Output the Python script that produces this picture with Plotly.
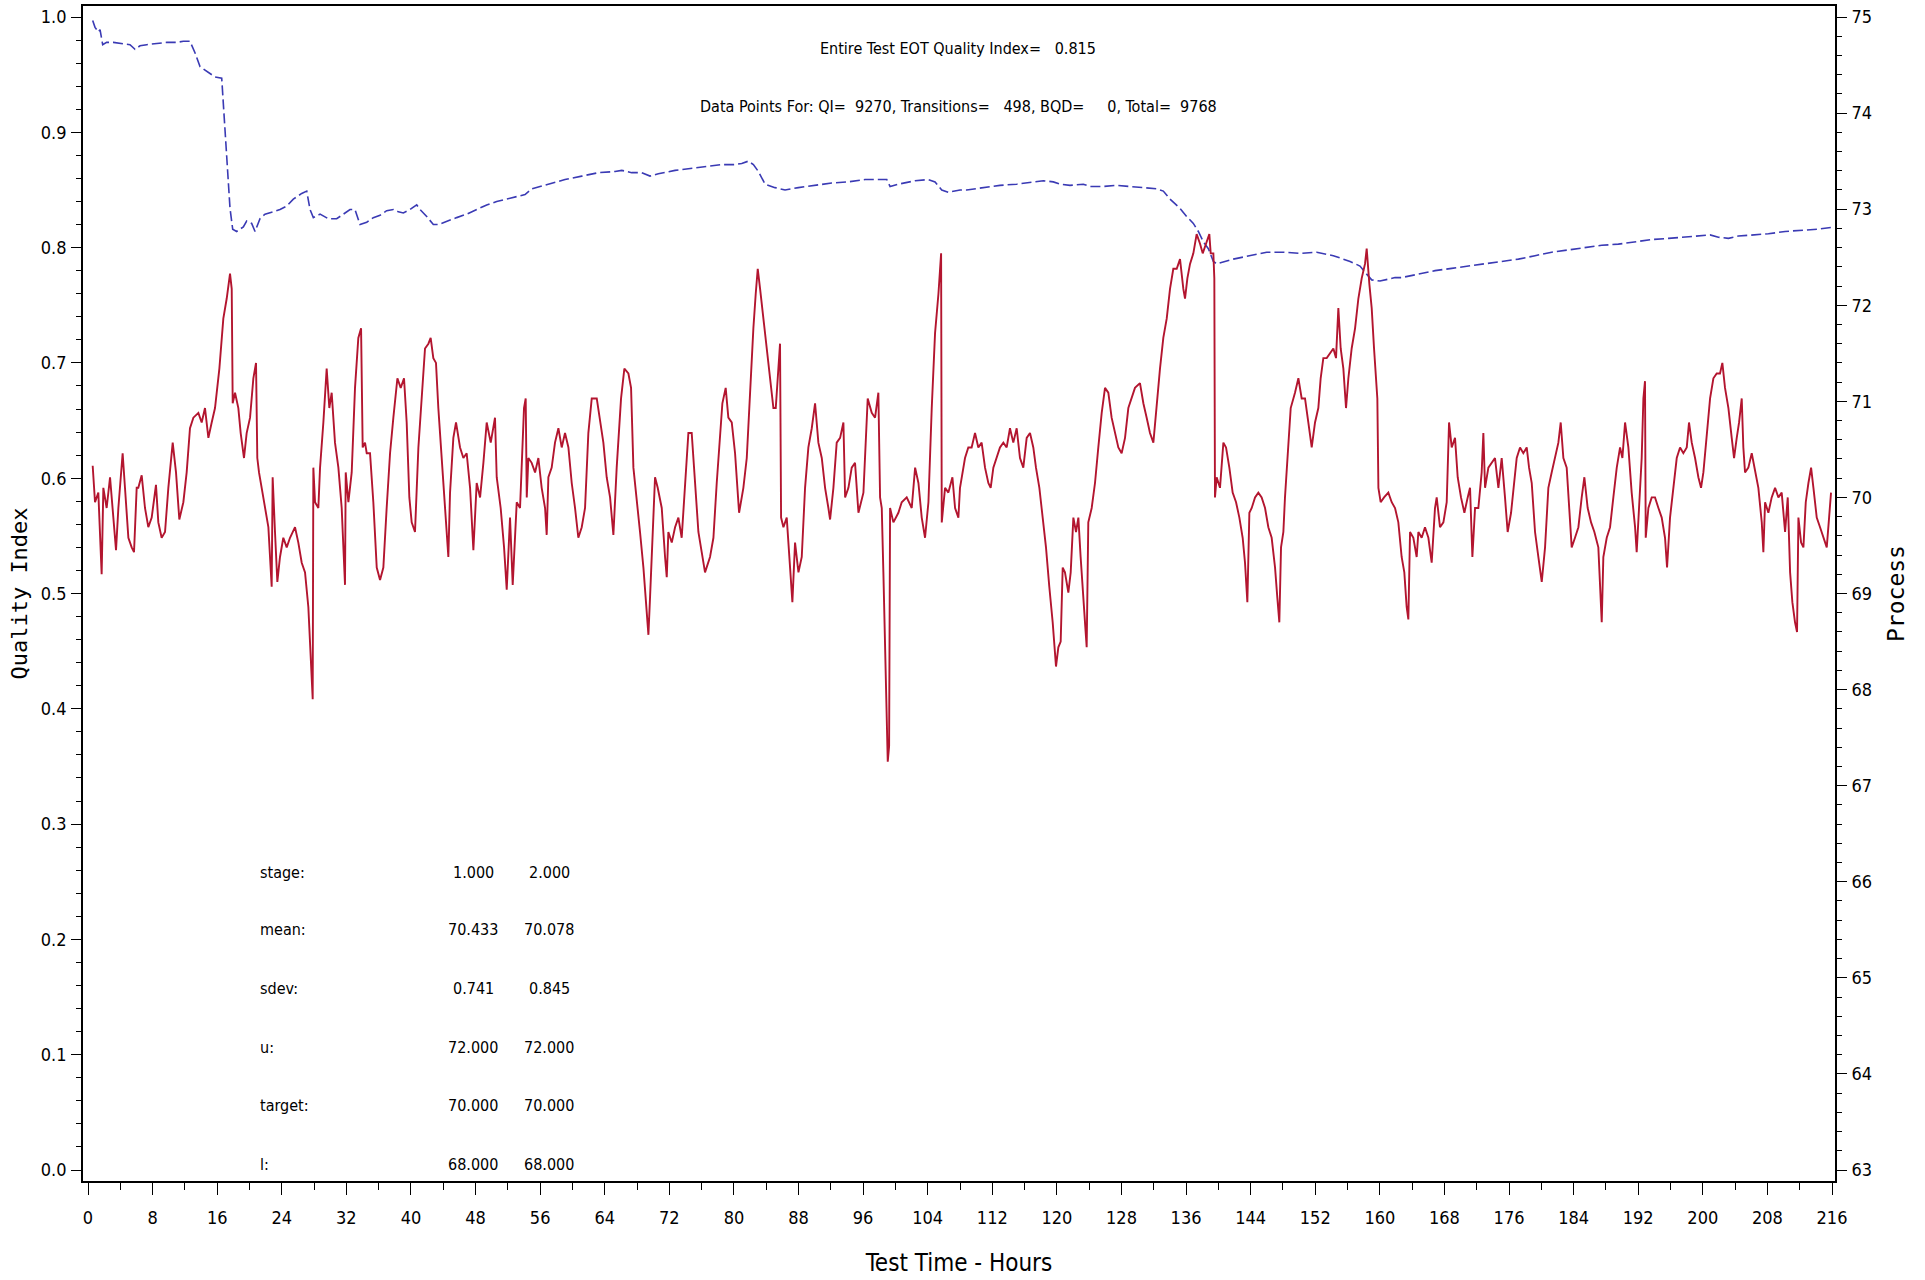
import plotly.graph_objects as go

# ---------------- data ----------------
red_hours = [
    0.58, 0.87, 1.28, 1.69, 1.90, 2.31, 2.73, 3.14, 3.47, 3.76, 4.29, 4.58, 5.00, 5.41, 5.70, 6.03, 6.23, 6.65,
    7.06, 7.47, 7.89, 8.42, 8.71, 9.12, 9.54, 9.95, 10.49, 10.90, 11.31, 11.81, 12.22, 12.63, 13.05, 13.67, 14.08,
    14.49, 14.91, 15.32, 15.73, 16.27, 16.76, 17.18, 17.59, 17.80, 17.92, 18.21, 18.62, 18.91, 19.32, 19.65, 20.07,
    20.48, 20.81, 20.97, 21.18, 21.51, 21.92, 22.34, 22.75, 22.87, 23.16, 23.45, 23.78, 24.19, 24.61, 25.02, 25.64,
    26.05, 26.47, 26.88, 27.29, 27.58, 27.83, 27.91, 28.12, 28.53, 28.74, 29.15, 29.56, 29.89, 30.18, 30.59, 31.01,
    31.42, 31.83, 31.92, 32.25, 32.66, 33.07, 33.48, 33.82, 34.02, 34.31, 34.52, 34.93, 35.34, 35.76, 36.17, 36.58,
    36.99, 37.41, 37.82, 38.32, 38.73, 39.14, 39.47, 39.80, 40.09, 40.50, 40.92, 41.33, 41.74, 42.16, 42.44, 42.77,
    43.10, 43.39, 43.81, 44.22, 44.63, 44.84, 45.25, 45.58, 46.08, 46.49, 46.90, 47.32, 47.73, 48.14, 48.56, 48.97,
    49.38, 49.88, 50.41, 50.62, 51.11, 51.53, 51.86, 52.27, 52.60, 53.10, 53.51, 54.00,
    54.21, 54.34, 54.54, 54.95, 55.37, 55.78, 56.19, 56.61, 56.81, 57.02, 57.43, 57.84, 58.26, 58.67, 59.08, 59.50,
    59.91, 60.32, 60.73, 61.15, 61.56, 61.97, 62.39, 63.01, 63.42, 63.83, 64.24, 64.66, 65.07, 65.48, 66.02, 66.43,
    66.93, 67.26, 67.55, 67.96, 68.37, 68.79, 69.07, 69.41, 69.61, 69.90, 70.23, 70.56, 71.06, 71.47, 71.68, 71.88,
    72.30, 72.71, 73.12, 73.53, 73.95, 74.36, 74.77, 75.19, 75.60, 76.01, 76.42, 77.04, 77.46, 77.87, 78.28, 78.57,
    78.98, 79.31, 79.73, 80.14, 80.64, 81.17, 81.59, 82.00, 82.41, 82.70, 82.95, 83.24, 83.65, 84.06, 84.48, 84.89,
    85.18, 85.51, 85.71, 85.84, 86.13, 86.54, 86.95, 87.24, 87.57, 87.99, 88.40, 88.81, 89.22, 89.64, 90.05, 90.46,
    90.88, 91.29, 91.70, 91.91, 92.32, 92.73, 93.15, 93.56, 93.77, 94.18, 94.59, 95.00, 95.42, 96.04, 96.57, 97.07,
    97.48, 97.89, 98.10, 98.31, 98.51, 98.72, 98.93, 99.05, 99.22, 99.34, 99.75, 100.37, 100.78, 101.40, 102.02,
    102.44, 102.85, 103.26, 103.67, 104.09, 104.50, 104.91, 105.33, 105.66, 105.74, 106.15, 106.56, 107.06, 107.39,
    107.80,
    108.00, 108.62, 109.03, 109.44, 109.86, 110.27, 110.68, 111.10, 111.51, 111.80, 112.13, 112.54, 112.95, 113.37,
    113.78, 114.19, 114.60, 115.02, 115.43, 115.84, 116.26, 116.67, 117.08, 117.41, 117.83, 118.24, 118.65, 119.06,
    119.48, 119.89, 120.18, 120.47, 120.72, 121.00, 121.42, 121.71, 122.04, 122.37, 122.66, 122.94, 123.19, 123.48,
    123.69, 123.89, 124.31, 124.72, 125.13, 125.55, 125.96, 126.37, 126.78, 127.20, 127.61, 128.02, 128.44, 128.85,
    129.26, 129.67, 130.29, 130.71, 131.12, 131.53, 131.95, 132.36, 132.77, 133.18, 133.60, 134.01, 134.42, 134.84,
    135.25, 135.66, 135.87, 136.16, 136.49, 136.90, 137.31, 137.73, 138.06, 138.47, 138.88, 139.05, 139.38, 139.50,
    139.58, 139.79, 140.20, 140.62, 140.95, 141.36, 141.77, 142.19, 142.60, 143.01, 143.30, 143.59, 143.84, 144.13,
    144.54, 144.95, 145.36, 145.78, 146.19, 146.60, 147.02, 147.30, 147.55, 147.76, 148.05, 148.25, 148.54, 148.96,
    149.49, 149.91, 150.32, 150.73, 151.14, 151.56, 151.97, 152.38, 152.67, 153.00, 153.42, 153.83, 154.24, 154.57,
    154.86, 155.15, 155.48, 155.81, 156.10, 156.51, 156.93, 157.34, 157.75, 158.16, 158.37, 158.70, 158.99, 159.28,
    159.53, 159.69, 159.82, 160.10, 160.52,
    161.05, 161.47, 161.88, 162.29, 162.70, 163.03, 163.32, 163.53, 163.74, 164.15, 164.56, 164.77, 165.18, 165.59,
    166.01, 166.42, 166.83, 167.04, 167.45, 167.87, 168.28, 168.57, 168.90, 169.31, 169.64, 170.05, 170.47, 170.88,
    171.17, 171.46, 171.79, 172.20, 172.61, 172.82, 173.03, 173.44, 173.85, 174.26, 174.68, 175.09, 175.50, 175.83,
    176.25, 176.66, 176.95, 177.36, 177.77, 178.19, 178.48, 178.81, 179.22, 179.63, 180.05, 180.46, 180.87, 181.28,
    181.70, 182.11, 182.40, 182.73, 183.14, 183.47, 183.76, 184.17, 184.59, 185.00, 185.33, 185.74, 186.16, 186.57,
    187.06, 187.48, 187.68, 188.10, 188.51, 188.92, 189.34, 189.75, 190.04, 190.37, 190.78, 191.19, 191.61, 191.81,
    192.10, 192.43, 192.64, 192.84, 192.93, 193.26, 193.67, 194.08, 194.50, 194.91, 195.32, 195.57, 195.94, 196.35,
    196.77, 197.18, 197.59, 198.01, 198.29, 198.63, 199.04, 199.45, 199.78, 200.07, 200.48, 200.90, 201.31, 201.72,
    202.13, 202.42, 202.75, 203.17, 203.58, 203.87, 204.20, 204.49, 204.82, 205.02, 205.23, 205.64, 206.06, 206.47,
    206.88, 207.30, 207.50, 207.71, 208.12, 208.53, 208.95, 209.36, 209.77, 210.19, 210.52, 210.81, 211.09, 211.42,
    211.67, 211.84, 212.17, 212.46, 212.75, 213.08, 213.41, 213.70, 214.11, 214.52, 214.93, 215.35, 215.64, 215.88,
]
red_process = [
    70.33, 69.95, 70.05, 69.20, 70.10, 69.89, 70.21, 69.74, 69.45, 69.89, 70.46, 70.10, 69.58, 69.48, 69.43, 70.10, 70.10, 70.23,
    69.89, 69.69, 69.79, 70.13, 69.74, 69.58, 69.64, 70.10, 70.57, 70.26, 69.77, 69.95, 70.26, 70.72, 70.83, 70.88, 70.78,
    70.93, 70.62, 70.78, 70.93, 71.34, 71.86, 72.07, 72.33, 72.17, 70.98, 71.09, 70.93, 70.67, 70.41, 70.67, 70.83,
    71.24, 71.40, 70.41, 70.26, 70.10, 69.89, 69.69, 69.07, 70.21, 69.64, 69.12, 69.38, 69.58, 69.48, 69.58, 69.69,
    69.53, 69.32, 69.22, 68.86, 68.34, 67.90, 70.31, 69.95, 69.89, 70.31, 70.78, 71.34, 70.93, 71.09, 70.57, 70.31,
    69.89, 69.09, 70.26, 69.95, 70.26, 71.14, 71.66, 71.76, 70.52, 70.57, 70.46, 70.46, 69.95, 69.27, 69.14, 69.27,
    69.89, 70.46, 70.83, 71.24, 71.14, 71.24, 70.78, 70.00, 69.74, 69.64, 70.52, 71.03, 71.55, 71.60, 71.66, 71.45,
    71.40, 70.93, 70.41, 69.89, 69.38, 70.05, 70.62, 70.78, 70.52, 70.41, 70.46, 70.10, 69.45, 70.15, 70.00, 70.36,
    70.78, 70.57, 70.83, 70.21, 69.89, 69.48, 69.04, 69.79, 69.09, 69.95, 69.89, 70.93,
    71.03, 70.00, 70.41, 70.36, 70.26, 70.41, 70.10, 69.89, 69.61, 70.21, 70.31, 70.57, 70.72, 70.52, 70.67, 70.52,
    70.15, 69.89, 69.58, 69.69, 69.89, 70.67, 71.03, 71.03, 70.78, 70.57, 70.21, 70.00, 69.61, 70.31, 71.03, 71.34,
    71.29, 71.14, 70.31, 70.00, 69.64, 69.27, 68.91, 68.57, 68.96, 69.53, 70.21, 70.10, 69.89, 69.38, 69.17, 69.64,
    69.53, 69.69, 69.79, 69.58, 70.15, 70.67, 70.67, 70.15, 69.64, 69.43, 69.22, 69.38, 69.58, 70.15, 70.67, 70.98,
    71.14, 70.83, 70.78, 70.46, 69.84, 70.10, 70.41, 71.14, 71.76, 72.12, 72.38, 72.17, 71.86, 71.55, 71.24, 70.93,
    70.93, 71.34, 71.60, 69.79, 69.69, 69.79, 69.27, 68.91, 69.53, 69.22, 69.38, 70.10, 70.52, 70.72, 70.98, 70.57,
    70.41, 70.10, 69.89, 69.77, 70.10, 70.57, 70.62, 70.78, 70.00, 70.10, 70.31, 70.36, 69.84, 70.05, 71.03, 70.88,
    70.83, 71.09, 70.00, 69.89, 69.22, 68.34, 67.67, 67.25, 67.41, 69.89, 69.74, 69.84, 69.95, 70.00, 69.89,
    70.31, 70.15, 69.79, 69.58, 69.95, 70.93, 71.71, 72.12, 72.54, 69.74, 70.10, 70.05, 70.21, 69.89,
    69.79,
    70.10, 70.41, 70.52, 70.52, 70.67, 70.52, 70.57, 70.31, 70.15, 70.10, 70.31, 70.41, 70.52, 70.57,
    70.52, 70.72, 70.57, 70.72, 70.41, 70.31, 70.62, 70.67, 70.52, 70.31, 70.10, 69.79, 69.48, 69.07,
    68.70, 68.24, 68.44, 68.50, 69.27, 69.22, 69.01, 69.22, 69.79, 69.64, 69.79, 69.38, 69.01, 68.70,
    68.44, 69.74, 69.89, 70.15, 70.52, 70.88, 71.14, 71.09, 70.83, 70.67, 70.52, 70.46, 70.62, 70.93,
    71.03, 71.14, 71.19, 70.98, 70.83, 70.67, 70.57, 70.98, 71.34, 71.66, 71.86, 72.17, 72.38, 72.38,
    72.48, 72.17, 72.07, 72.28, 72.43, 72.54, 72.74, 72.64, 72.54, 72.64, 72.74, 72.54, 72.54, 72.28,
    70.00, 70.21, 70.10, 70.57, 70.52, 70.31, 70.05, 69.95, 69.79, 69.58, 69.32, 68.91, 69.84, 69.89,
    70.00, 70.05, 70.00, 69.89, 69.69, 69.58, 69.27, 68.96, 68.70, 69.48, 69.64, 70.00, 70.41, 70.93,
    71.09, 71.24, 71.03, 71.03, 70.78, 70.52, 70.78, 70.93, 71.24, 71.45, 71.45, 71.50, 71.55, 71.45,
    71.97, 71.55, 71.34, 70.93, 71.24, 71.55, 71.76, 72.07, 72.28, 72.43, 72.59, 72.22, 71.97, 71.55,
    71.29, 71.03, 70.10, 69.95, 70.00,
    70.05, 69.95, 69.89, 69.74, 69.38, 69.22, 68.86, 68.73, 69.64, 69.58, 69.38, 69.64, 69.58, 69.69,
    69.58, 69.32, 69.89, 70.00, 69.69, 69.74, 69.95, 70.78, 70.52, 70.62, 70.21, 70.00, 69.84, 70.00,
    70.10, 69.38, 69.89, 69.89, 70.26, 70.67, 70.10, 70.31, 70.36, 70.41, 70.10, 70.41, 70.00, 69.64,
    69.84, 70.15, 70.41, 70.52, 70.46, 70.52, 70.31, 70.15, 69.64, 69.38, 69.12, 69.48, 70.10, 70.26,
    70.41, 70.57, 70.78, 70.41, 70.31, 69.89, 69.48, 69.58, 69.69, 70.00, 70.21, 69.89, 69.74, 69.64,
    69.48, 68.70, 69.38, 69.58, 69.69, 70.00, 70.31, 70.52, 70.41, 70.78, 70.52, 70.05, 69.69, 69.43,
    69.84, 70.41, 71.03, 71.21, 69.58, 69.89, 70.00, 70.00, 69.89, 69.79, 69.58, 69.27, 69.79, 70.10,
    70.41, 70.52, 70.46, 70.52, 70.78, 70.57, 70.41, 70.21, 70.10, 70.26, 70.67, 71.03, 71.24, 71.29,
    71.29, 71.40, 71.14, 70.93, 70.62, 70.41, 70.62, 70.78, 71.03, 70.52, 70.26, 70.31, 70.46, 70.26,
    70.10, 69.74, 69.43, 69.95, 69.84, 70.00, 70.10, 70.00, 70.05, 69.64, 70.00, 69.22, 68.91, 68.70,
    68.60, 69.79, 69.53, 69.48, 69.95, 70.15, 70.31, 70.10, 69.79, 69.69, 69.58, 69.48, 69.79, 70.05,
]

blue_hours = [
    0.58, 0.87, 1.28, 1.49, 1.82, 2.31, 3.14, 4.38, 5.20, 5.82, 6.44, 7.27, 8.51, 9.74, 10.98, 11.81, 12.63, 13.25,
    13.87, 14.49, 15.32, 15.73, 16.56, 17.18, 17.59, 17.92, 18.41, 19.24, 19.65, 20.27, 20.69, 21.30, 21.92, 22.96,
    23.78, 24.61, 25.43, 26.47, 27.09, 27.50, 27.91, 28.74, 29.77, 30.80, 31.63, 32.45, 33.07, 33.69, 34.52, 35.34,
    36.17, 36.99, 37.82, 38.44, 39.06, 39.88, 40.71, 41.12, 41.95, 42.77, 43.39, 44.43, 45.66, 46.90, 48.14, 49.38,
    50.62, 51.86, 53.10, 54.13,
    54.95, 57.02, 59.08, 61.15, 63.21, 65.28, 66.10, 67.34, 68.58, 69.61, 70.64, 72.71, 74.77, 76.84, 78.49, 80.14,
    80.97, 81.79, 82.41, 83.03, 83.86, 85.09, 86.33, 87.98, 90.05, 92.11, 94.18, 96.24, 98.31, 98.93, 99.34, 100.37,
    102.44, 104.09, 104.91, 105.74, 106.56, 108.01,
    108.82, 110.89, 112.95, 115.02, 117.08, 118.32, 119.56, 120.38, 121.62, 123.27, 124.10, 125.75, 127.40, 129.06,
    130.71, 132.36, 133.18, 134.01, 135.25, 136.07, 136.90, 137.52, 138.14, 138.76, 139.38, 139.79, 141.85, 143.92,
    145.98, 148.05, 150.11, 152.18, 154.24, 156.31, 157.54, 158.37, 158.99, 160.02, 161.26, 161.88,
    162.70, 164.77, 166.83, 168.90, 170.96, 173.03, 175.09, 177.16, 179.22, 181.28, 183.35, 185.41, 187.48, 189.54,
    191.61, 193.67, 195.74, 197.80, 199.86, 200.90, 201.93, 203.17, 204.41, 206.06, 208.12, 210.19, 212.25, 214.32,
    215.97,
]
blue_qi = [
    0.997, 0.991, 0.987, 0.989, 0.976, 0.978, 0.978, 0.977, 0.976, 0.972, 0.975, 0.976, 0.977, 0.978, 0.978, 0.979, 0.979, 0.969,
    0.957, 0.954, 0.950, 0.948, 0.947, 0.877, 0.834, 0.816, 0.814, 0.818, 0.823, 0.821, 0.814, 0.825, 0.829, 0.831,
    0.833, 0.836, 0.842, 0.847, 0.849, 0.833, 0.826, 0.829, 0.825, 0.825, 0.829, 0.833, 0.833, 0.820, 0.822, 0.826,
    0.828, 0.832, 0.833, 0.831, 0.830, 0.833, 0.837, 0.833, 0.827, 0.820, 0.820, 0.823, 0.826, 0.829, 0.833, 0.837,
    0.840, 0.842, 0.844, 0.846,
    0.851, 0.855, 0.859, 0.862, 0.865, 0.866, 0.867, 0.865, 0.865, 0.862, 0.864, 0.867, 0.869, 0.871, 0.872, 0.872,
    0.873, 0.875, 0.872, 0.866, 0.855, 0.852, 0.850, 0.852, 0.854, 0.856, 0.857, 0.859, 0.859, 0.859, 0.853, 0.855,
    0.858, 0.859, 0.857, 0.850, 0.848, 0.850,
    0.850, 0.852, 0.854, 0.855, 0.857, 0.858, 0.857, 0.855, 0.854, 0.855, 0.853, 0.853, 0.854, 0.853,
    0.852, 0.851, 0.849, 0.842, 0.834, 0.827, 0.821, 0.814, 0.805, 0.799, 0.788, 0.786, 0.790, 0.793,
    0.796, 0.796, 0.795, 0.796, 0.793, 0.788, 0.784, 0.777, 0.772, 0.771, 0.773, 0.774,
    0.774, 0.777, 0.780, 0.782, 0.784, 0.786, 0.788, 0.790, 0.793, 0.796, 0.798, 0.800, 0.802, 0.803,
    0.805, 0.807, 0.808, 0.809, 0.810, 0.811, 0.809, 0.808, 0.810, 0.811, 0.812, 0.814, 0.815, 0.816,
    0.8175,
]

x_tick_vals = list(range(0, 217, 8))
eot_qi = 0.815
qi_points = 9270
transitions = 498
bqd_points = 0
total_points = 9768

stat_labels = ["stage:", "mean:", "sdev:", "u:", "target:", "l:"]
stage1_stats = ["1.000", "70.433", "0.741", "72.000", "70.000", "68.000"]
stage2_stats = ["2.000", "70.078", "0.845", "72.000", "70.000", "68.000"]

# ---------------- styling ----------------
NARROW = "Liberation Sans Narrow, DejaVu Sans Condensed, Arial Narrow, Liberation Sans, sans-serif"
WIDE = "DejaVu Sans Mono, DejaVu Sans, sans-serif"
RED = "#b3152f"
BLUE = "#3a3ab4"
NB = "\u00a0"


def keep_spaces(s):
    return s.replace(" ", NB)


fig = go.Figure()
fig.add_trace(go.Scatter(x=blue_hours, y=blue_qi, mode="lines", yaxis="y",
                         line=dict(color=BLUE, width=1.6, dash="10px,4px"),
                         showlegend=False, hoverinfo="x+y"))
fig.add_trace(go.Scatter(x=red_hours, y=red_process, mode="lines", yaxis="y2",
                         line=dict(color=RED, width=1.9),
                         showlegend=False, hoverinfo="x+y"))

# plot area in pixels: left 83, right 1835, top 6, bottom 1181
L, R, T, B = 83, 1835, 6, 1181
W, H = 1925, 1280
px_per_hour = (1832 - 88) / 216.0
x_lo = -(88 - L) / px_per_hour
x_hi = 216 + (R - 1832) / px_per_hour
px_per_qi = (1170 - 17) / 1.0
y_lo = -(B - 1170) / px_per_qi
y_hi = 1.0 + (17 - T) / px_per_qi
y2_lo = 63 + y_lo * 12
y2_hi = 63 + y_hi * 12

SMALL = 16
annotations = []
line1 = keep_spaces(f"Entire Test EOT Quality Index={eot_qi:8.3f}")
line2 = keep_spaces(f"Data Points For: QI={qi_points:6d}, Transitions={transitions:6d}, "
                    f"BQD={bqd_points:6d}, Total={total_points:6d}")
for txt, py in [(line1, 48), (line2, 107)]:
    annotations.append(dict(text=txt, xref="paper", yref="paper",
                            x=(958 - L) / (R - L), y=(B - py) / (B - T),
                            xanchor="center", yanchor="middle", showarrow=False,
                            font=dict(family=NARROW, size=SMALL, color="black")))

row_px = [872, 929, 988, 1047, 1105, 1164]
for lab, v1, v2, py in zip(stat_labels, stage1_stats, stage2_stats, row_px):
    yp = (B - py) / (B - T)
    annotations.append(dict(text=lab, xref="paper", yref="paper", x=(258 - L) / (R - L), y=yp,
                            xanchor="left", yanchor="middle", showarrow=False,
                            font=dict(family=NARROW, size=SMALL, color="black")))
    annotations.append(dict(text=v1, xref="paper", yref="paper", x=(473 - L) / (R - L), y=yp,
                            xanchor="center", yanchor="middle", showarrow=False,
                            font=dict(family=NARROW, size=SMALL, color="black")))
    annotations.append(dict(text=v2, xref="paper", yref="paper", x=(549 - L) / (R - L), y=yp,
                            xanchor="center", yanchor="middle", showarrow=False,
                            font=dict(family=NARROW, size=SMALL, color="black")))

fig.update_layout(
    width=W, height=H,
    margin=dict(l=L, r=W - R, t=T, b=H - B, pad=0, autoexpand=False),
    paper_bgcolor="white", plot_bgcolor="white",
    showlegend=False,
    annotations=annotations,
    xaxis=dict(
        range=[x_lo, x_hi], tickmode="array", tickvals=x_tick_vals, automargin=False,
        ticks="outside", ticklen=12, tickwidth=1.3, tickcolor="black",
        minor=dict(dtick=4, tick0=0, ticks="outside", ticklen=7, tickwidth=1.2, tickcolor="black"),
        showline=True, linecolor="black", linewidth=1.8, mirror=True,
        showgrid=False, zeroline=False,
        tickfont=dict(family=NARROW, size=18, color="black"),
        ticklabelstandoff=7,
        title=dict(text="Test Time - Hours", standoff=28,
                   font=dict(family=NARROW, size=24, color="black")),
    ),
    yaxis=dict(
        range=[y_lo, y_hi], dtick=0.1, tick0=0, tickformat=".1f", automargin=False,
        ticks="outside", ticklen=10, tickwidth=1.3, tickcolor="black",
        minor=dict(dtick=0.02, tick0=0, ticks="outside", ticklen=5, tickwidth=1.1, tickcolor="black"),
        showline=True, linecolor="black", linewidth=1.8,
        showgrid=False, zeroline=False,
        tickfont=dict(family=NARROW, size=18, color="black"),
        ticklabelstandoff=1,
        title=dict(text="Quality Index", standoff=7,
                   font=dict(family=WIDE, size=22, color="black")),
    ),
    yaxis2=dict(
        range=[y2_lo, y2_hi], dtick=1, tick0=63, overlaying="y", side="right", automargin=False,
        ticks="outside", ticklen=10, tickwidth=1.3, tickcolor="black",
        minor=dict(dtick=0.2, tick0=63, ticks="outside", ticklen=5, tickwidth=1.1, tickcolor="black"),
        showline=True, linecolor="black", linewidth=1.8,
        showgrid=False, zeroline=False,
        tickfont=dict(family=NARROW, size=18, color="black"),
        ticklabelstandoff=1,
        title=dict(text="Process", standoff=17,
                   font=dict(family=WIDE, size=23, color="black")),
    ),
)

# remove the browser's default 8px body margin so the figure sits at the page corner
fig.write_html("out.html", config={"displayModeBar": False},
               post_script="document.body.style.margin='0';")
